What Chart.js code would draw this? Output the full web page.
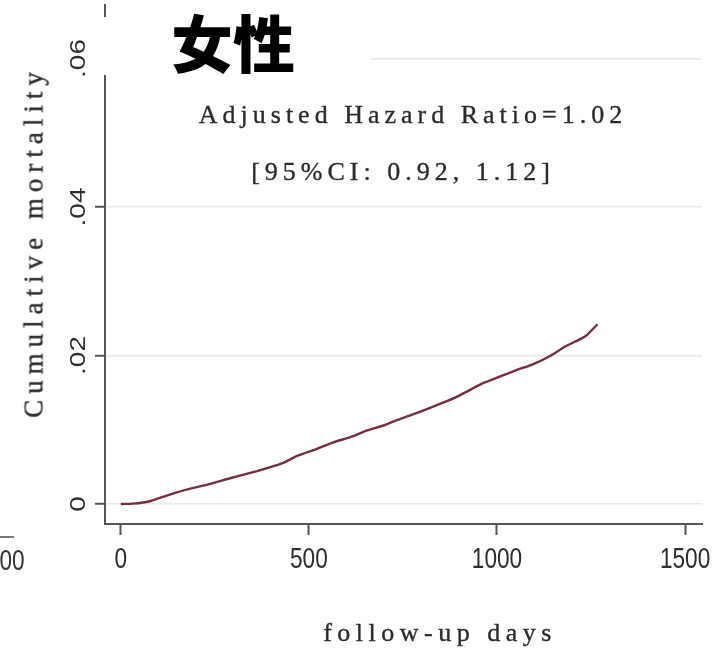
<!DOCTYPE html>
<html>
<head>
<meta charset="utf-8">
<script src="https://cdn.jsdelivr.net/npm/chart.js@4"></script>
<style>
  html, body { margin: 0; padding: 0; background: #fff; }
  #wrap { position: relative; width: 715px; height: 650px; overflow: hidden; background: #fff; }
  #c { position: absolute; left: 0; top: 0; }
  .t { position: absolute; white-space: nowrap; transform: translate(-50%, -50%); }
  .serif { font-family: "Liberation Serif", "DejaVu Serif", serif; color: #2b2b2b; -webkit-text-stroke: 0.35px #2b2b2b; }
</style>
</head>
<body>
<div id="wrap">
  <canvas id="c" width="715" height="650"></canvas>
  <div class="t" id="title" style="left:233px; top:41px; font-family:'Noto Sans CJK SC','Noto Sans CJK JP',sans-serif; font-weight:900; font-size:62px; color:#000;">女性</div>
  <div class="t serif" id="ann1" style="left:413px; top:115px; font-size:26px; letter-spacing:5px;">Adjusted Hazard Ratio=1.02</div>
  <div class="t serif" id="ann2" style="left:403px; top:172px; font-size:26px; letter-spacing:5px;">[95%CI: 0.92, 1.12]</div>
  <div class="t serif" id="ytitle" style="left:34px; top:242px; font-size:27px; letter-spacing:6px; transform:translate(-50%,-50%) rotate(-90deg);">Cumulative mortality</div>
  <div class="t serif" id="xtitle" style="left:440px; top:633px; font-size:26px; letter-spacing:5.5px;">follow-up days</div>
  <div class="t" id="left00" style="left:12px; top:560px; font-family:'Liberation Sans',sans-serif; font-size:29px; color:#333; transform:translate(-50%,-50%) scaleX(0.78);">00</div>
  <div style="position:absolute; left:0; top:536px; width:14px; height:2px; background:#777;"></div>
</div>
<script>
// ---- data ----
const days = [0, 30, 60, 80, 120, 165, 230, 300, 360, 430, 470, 520, 565, 610, 655, 700, 745, 795, 850, 900, 960, 1000, 1050, 1095, 1140, 1185, 1235, 1267];
const mortality = [0, 0.00005, 0.0002, 0.0004, 0.0011, 0.0018, 0.0026, 0.0036, 0.0044, 0.0055, 0.0065, 0.0074, 0.0083, 0.0090, 0.0099, 0.0106, 0.0115, 0.0124, 0.0135, 0.0146, 0.0162, 0.0170, 0.0180, 0.0188, 0.0199, 0.0213, 0.0226, 0.0242];
const xTicks = [0, 500, 1000, 1500];
const xTickLabels = ['0', '500', '1000', '1500'];
const yTicks = [0, 0.02, 0.04, 0.06];
const yTickLabels = ['0', '.02', '.04', '.06'];

const points = days.map((d, i) => ({ x: d, y: mortality[i] }));

// draws the tick labels (narrow sans, y labels rotated) at the scales' own pixel positions
const tickLabelPlugin = {
  id: 'tickLabels',
  afterDraw(chart) {
    const ctx = chart.ctx;
    const xs = chart.scales.x, ys = chart.scales.y;
    ctx.save();
    ctx.fillStyle = '#2e2e2e';
    ctx.font = "29px 'Liberation Sans', Arial, sans-serif";
    ctx.textAlign = 'center';
    ctx.textBaseline = 'middle';
    xTicks.forEach((v, i) => {
      const px = xs.getPixelForValue(v);
      ctx.save();
      ctx.translate(px, 560);
      ctx.scale(0.78, 1);
      ctx.fillText(xTickLabels[i], 0, 0);
      ctx.restore();
    });
    ctx.font = "28px 'Liberation Sans', Arial, sans-serif";
    yTicks.forEach((v, i) => {
      const py = ys.getPixelForValue(v);
      ctx.save();
      ctx.translate(79, py);
      ctx.rotate(-Math.PI / 2);
      ctx.scale(1, 0.8);
      ctx.fillText(yTickLabels[i], 0, 0);
      ctx.restore();
    });
    ctx.restore();
  }
};

const coverPlugin = {
  id: 'cover',
  afterDraw(chart) {
    const ctx = chart.ctx;
    ctx.save();
    ctx.fillStyle = '#ffffff';
    ctx.fillRect(93, 17, 277, 58);
    ctx.restore();
  }
};

new Chart(document.getElementById('c'), {
  type: 'line',
  data: {
    datasets: [{
      data: points,
      borderColor: '#74303f',
      borderWidth: 2.4,
      pointRadius: 0,
      tension: 0.25,
      fill: false
    }]
  },
  options: {
    responsive: false,
    animation: false,
    devicePixelRatio: 1,
    layout: { padding: { top: 5, right: 13, left: 0, bottom: 0 } },
    plugins: { legend: { display: false }, tooltip: { enabled: false } },
    scales: {
      x: {
        type: 'linear',
        min: -42,
        max: 1545,
        afterBuildTicks: s => { s.ticks = xTicks.map(v => ({ value: v })); },
        afterFit: s => { s.height = 126; s.paddingLeft = 0; s.paddingRight = 0; },
        ticks: { display: false },
        grid: { drawOnChartArea: false, drawTicks: true, tickLength: 11, tickColor: '#555', tickWidth: 2 },
        border: { display: true, color: '#555', width: 2 }
      },
      y: {
        type: 'linear',
        min: -0.0027,
        max: 0.0672,
        afterBuildTicks: s => { s.ticks = yTicks.map(v => ({ value: v })); },
        afterFit: s => { s.width = 105; s.paddingTop = 0; s.paddingBottom = 0; },
        ticks: { display: false },
        grid: { color: '#e9e9e9', lineWidth: 1.5, drawTicks: true, tickLength: 10, tickColor: '#555', tickWidth: 2 },
        border: { display: true, color: '#555', width: 2 }
      }
    }
  },
  plugins: [tickLabelPlugin, coverPlugin]
});
</script>
</body>
</html>
